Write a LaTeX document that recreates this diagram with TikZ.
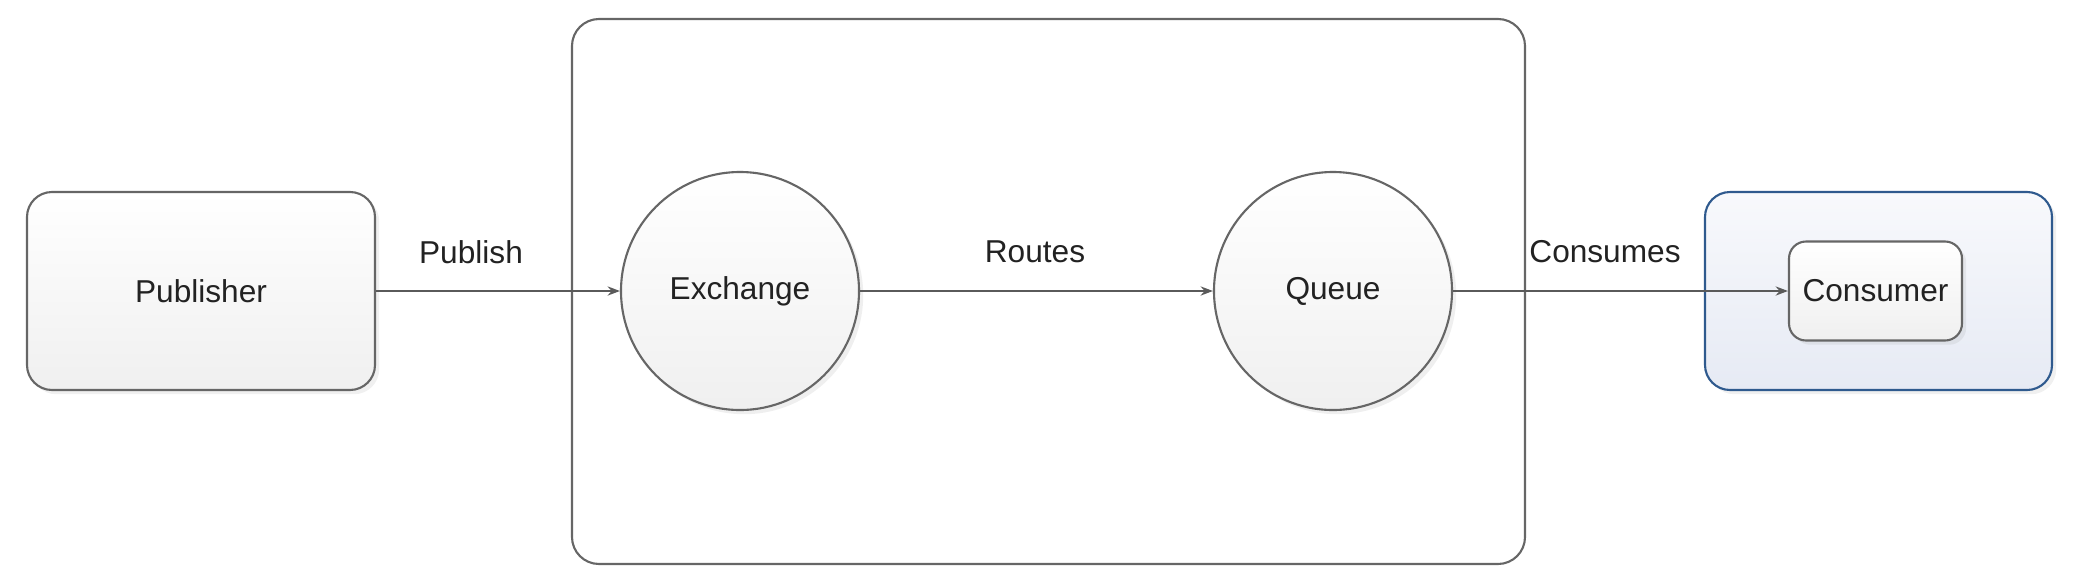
\documentclass[tikz,border=0pt]{standalone}
\usepackage{fontspec}
\setmainfont{Liberation Sans}
\usetikzlibrary{arrows.meta,shadows}
\definecolor{edgegray}{HTML}{666666}
\definecolor{linegray}{HTML}{5A5A5A}
\definecolor{consblue}{HTML}{2F5A8E}
\definecolor{textgray}{HTML}{222222}
\definecolor{bluetop}{HTML}{F8F9FC}
\definecolor{bluebot}{HTML}{E6EAF4}
\tikzset{
  box/.style={draw=edgegray, line width=0.6pt, rounded corners=0.25cm,
    top color=white, bottom color=gray!12, align=center,
    drop shadow={opacity=0.12, shadow xshift=1.2pt, shadow yshift=-1.2pt}},
  ball/.style={circle, draw=edgegray, line width=0.6pt, minimum size=2.38cm,
    top color=white, bottom color=gray!12,
    drop shadow={opacity=0.12, shadow xshift=1.2pt, shadow yshift=-1.2pt}},
  flow/.style={draw=linegray, line width=0.6pt, -{Stealth[length=3.5pt,width=2.6pt]}},
  tag/.style={font=\fontsize{9}{11}\selectfont}
}
\begin{document}
\begin{tikzpicture}[font=\fontsize{9}{11}\selectfont, text=textgray]
\useasboundingbox (0,0) rectangle (20.78,5.82);
\node[draw=edgegray, line width=0.6pt, rounded corners=0.27cm, fill=white,
  minimum width=9.53cm, minimum height=5.45cm] (broker) at (10.485,2.905) {};
\node[box, minimum width=3.48cm, minimum height=1.98cm] (publisher) at (2.01,2.91) {Publisher};
\node[ball] (exchange) at (7.40,2.91) {Exchange};
\node[ball] (queue) at (13.33,2.91) {Queue};
\node[draw=consblue, line width=0.6pt, rounded corners=0.25cm,
  top color=bluetop, bottom color=bluebot,
  drop shadow={opacity=0.12, shadow xshift=1.2pt, shadow yshift=-1.2pt},
  minimum width=3.47cm, minimum height=1.98cm] (group) at (18.785,2.91) {};
\node[box, rounded corners=0.17cm, minimum width=1.73cm, minimum height=0.99cm] (consumer) at (18.755,2.91) {Consumer};
% connectors
\draw[flow] (publisher) -- (exchange);
\draw[flow] (exchange) -- (queue);
\draw[flow] (queue) -- (consumer);
\node[tag] (publish) at (4.71,3.30) {Publish};
\node[tag] (routes) at (10.35,3.30) {Routes};
\node[tag] (consumes) at (16.05,3.30) {Consumes};
\end{tikzpicture}
\end{document}
